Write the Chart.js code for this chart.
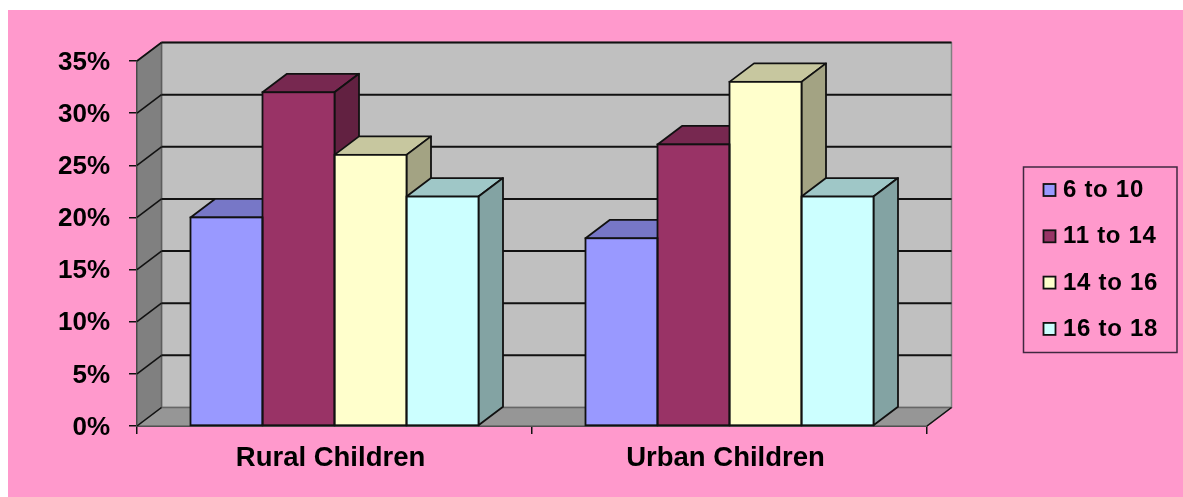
<!DOCTYPE html>
<html>
<head>
<meta charset="utf-8">
<style>
html,body{margin:0;padding:0;background:#fff;overflow:hidden}
canvas{display:block;filter:blur(0.4px)}
</style>
<script src="https://cdn.jsdelivr.net/npm/chart.js@4/dist/chart.umd.min.js"></script>
</head>
<body>
<canvas id="c" width="1183" height="497" style="width:1183px;height:497px"></canvas>
<script>
const categories = ["Rural Children", "Urban Children"];
const seriesNames = ["6 to 10", "11 to 14", "14 to 16", "16 to 18"];
const age6to10 = [20, 18];
const age11to14 = [32, 27];
const age14to16 = [26, 33];
const age16to18 = [22, 22];
const seriesColors = ["#9999FF", "#993366", "#FFFFCC", "#CCFFFF"];
const seriesValues = [age6to10, age11to14, age14to16, age16to18];

const DX = 24.5, DY = -18.5;
const FONT = '"Liberation Sans", Arial, sans-serif';

function shade(hex, f) {
  const n = parseInt(hex.slice(1), 16);
  const c = [(n >> 16) & 255, (n >> 8) & 255, n & 255].map(v => Math.round(v * f));
  return `rgb(${c[0]},${c[1]},${c[2]})`;
}
function poly(ctx, pts, fill, stroke, lw) {
  ctx.beginPath();
  pts.forEach((p, i) => i ? ctx.lineTo(p[0], p[1]) : ctx.moveTo(p[0], p[1]));
  ctx.closePath();
  if (fill) { ctx.fillStyle = fill; ctx.fill(); }
  if (stroke) { ctx.strokeStyle = stroke; ctx.lineWidth = lw; ctx.lineJoin = 'round'; ctx.stroke(); }
}
function line(ctx, x1, y1, x2, y2, color, lw) {
  ctx.beginPath(); ctx.moveTo(x1, y1); ctx.lineTo(x2, y2);
  ctx.strokeStyle = color; ctx.lineWidth = lw; ctx.stroke();
}

const scene3d = {
  id: 'scene3d',
  beforeDraw(chart) {
    const ctx = chart.ctx;
    ctx.save();
    ctx.fillStyle = '#FF99CC';
    ctx.fillRect(8, 10, chart.width - 8, chart.height - 10);
    ctx.restore();
  },
  beforeDatasetsDraw(chart) {
    const ctx = chart.ctx, a = chart.chartArea, y = chart.scales.y;
    const L = a.left, R = a.right, T = a.top, B = a.bottom;
    ctx.save();
    // walls and floor
    poly(ctx, [[L + DX, T + DY], [R + DX, T + DY], [R + DX, B + DY], [L + DX, B + DY]], '#C0C0C0', '#808080', 1.5);
    poly(ctx, [[L, B], [L, T], [L + DX, T + DY], [L + DX, B + DY]], '#808080', '#5c5c5c', 1.5);
    poly(ctx, [[L, B], [L + DX, B + DY], [R + DX, B + DY], [R, B]], '#969696', '#666666', 1.5);
    // gridlines on walls
    y.ticks.forEach(t => {
      const py = y.getPixelForValue(t.value);
      if (t.value === 0) return;
      line(ctx, L, py, L + DX, py + DY, '#111', 1.6);
      line(ctx, L + DX, py + DY, R + DX, py + DY, '#111', 2);
    });
    line(ctx, L, B, L + DX, B + DY, '#111', 1.4);
    line(ctx, R, B, R + DX, B + DY, '#111', 1.4);
    // extruded bar faces, left to right
    const n = chart.data.labels.length;
    for (let i = 0; i < n; i++) {
      chart.data.datasets.forEach((ds, d) => {
        const el = chart.getDatasetMeta(d).data[i];
        const x0 = el.x - el.width / 2, x1 = el.x + el.width / 2, top = el.y, base = el.base;
        poly(ctx, [[x0, top], [x0 + DX, top + DY], [x1 + DX, top + DY], [x1, top]],
          shade(ds.backgroundColor, 0.78), '#111', 1.8);
        poly(ctx, [[x1, top], [x1 + DX, top + DY], [x1 + DX, base + DY], [x1, base]],
          shade(ds.backgroundColor, 0.64), '#111', 1.8);
      });
    }
    ctx.restore();
  },
  afterDatasetsDraw(chart) {
    const ctx = chart.ctx;
    ctx.save();
    chart.data.datasets.forEach((ds, d) => {
      chart.getDatasetMeta(d).data.forEach(el => {
        ctx.strokeStyle = '#111';
        ctx.lineWidth = 1.8;
        ctx.strokeRect(el.x - el.width / 2, el.y, el.width, el.base - el.y);
      });
    });
    ctx.restore();
  },
  afterDraw(chart) {
    const ctx = chart.ctx;
    ctx.save();
    ctx.strokeStyle = '#402840';
    ctx.lineWidth = 1.5;
    ctx.strokeRect(1023.5, 167, 153.5, 185.5);
    ctx.textBaseline = 'middle';
    ctx.textAlign = 'left';
    ctx.font = 'bold 24px ' + FONT;
    if ('letterSpacing' in ctx) ctx.letterSpacing = '0.7px';
    chart.data.datasets.forEach((ds, i) => {
      const cy = 190 + i * 46.3;
      ctx.fillStyle = ds.backgroundColor;
      ctx.fillRect(1043.5, cy - 6, 12, 12);
      ctx.strokeStyle = '#111';
      ctx.lineWidth = 1.8;
      ctx.strokeRect(1043.5, cy - 6, 12, 12);
      ctx.fillStyle = '#000';
      ctx.fillText(ds.label, 1063, cy + 0.5);
    });
    ctx.restore();
  }
};

new Chart(document.getElementById('c'), {
  type: 'bar',
  data: {
    labels: categories,
    datasets: seriesNames.map((name, i) => ({
      label: name,
      data: seriesValues[i],
      backgroundColor: seriesColors[i],
      borderWidth: 0
    }))
  },
  options: {
    responsive: false,
    animation: false,
    devicePixelRatio: 1,
    layout: { padding: { top: 61, right: 256, bottom: 0, left: 0 } },
    plugins: { legend: { display: false }, title: { display: false }, tooltip: { enabled: false } },
    datasets: { bar: { categoryPercentage: 288 / 395, barPercentage: 1 } },
    scales: {
      x: {
        afterFit(s) { s.height = 71; },
        grid: { drawOnChartArea: false, drawTicks: true, tickLength: 8, color: '#111', lineWidth: 1.5, offset: true },
        border: { display: true, color: '#111', width: 2 },
        ticks: { color: '#000', padding: 8, labelOffset: -4, maxRotation: 0, font: { family: FONT, weight: 'bold', size: 27.5 } }
      },
      y: {
        min: 0, max: 35,
        afterFit(s) { s.width = 137; },
        grid: { drawOnChartArea: false, drawTicks: true, tickLength: 8, color: '#111', lineWidth: 1.5 },
        border: { display: true, color: '#111', width: 2 },
        ticks: { color: '#000', stepSize: 5, padding: 19, labelOffset: 1.5, callback: v => v + '%', font: { family: FONT, weight: 'bold', size: 26 } }
      }
    }
  },
  plugins: [scene3d]
});
</script>
</body>
</html>
